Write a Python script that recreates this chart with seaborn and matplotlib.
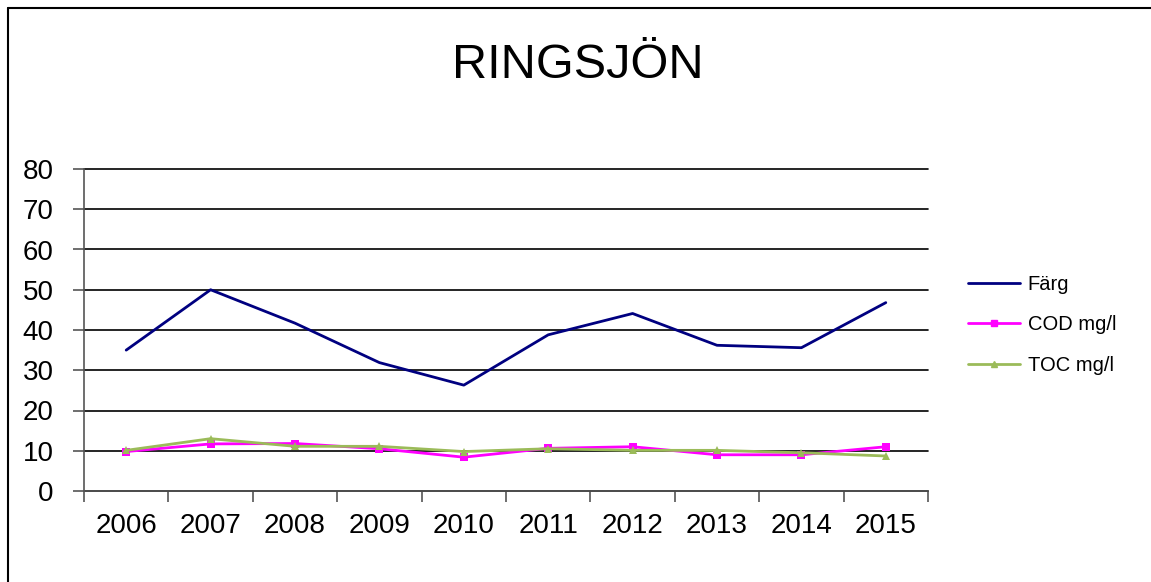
import pandas as pd
import matplotlib.pyplot as plt
import matplotlib.lines as mlines
import seaborn as sns

# data
years = ['2006', '2007', '2008', '2009', '2010', '2011', '2012', '2013', '2014', '2015']
farg = [35.0, 50.0, 41.7, 31.9, 26.3, 38.8, 44.1, 36.2, 35.6, 46.8]
cod = [9.8, 11.7, 11.8, 10.5, 8.4, 10.6, 11.0, 9.0, 9.0, 11.0]
toc = [10.1, 13.0, 11.1, 11.1, 9.8, 10.5, 10.1, 10.1, 9.5, 8.7]

df = pd.DataFrame({'year': years, 'Färg': farg, 'COD mg/l': cod, 'TOC mg/l': toc})
long = df.melt(id_vars='year', var_name='serie', value_name='value')

sns.set_style('white')
plt.rcParams['font.family'] = ['Liberation Sans', 'DejaVu Sans']
plt.rcParams['text.color'] = 'black'
plt.rcParams['xtick.color'] = 'black'
plt.rcParams['ytick.color'] = 'black'

fig = plt.figure(figsize=(11.51, 5.82), dpi=100)
ax = fig.add_axes([84 / 1151, 1 - 491 / 582, (928 - 84) / 1151, (491 - 169) / 582])

palette = {'Färg': '#000080', 'COD mg/l': '#FF00FF', 'TOC mg/l': '#9BBB59'}
markers = {'Färg': '', 'COD mg/l': 's', 'TOC mg/l': '^'}
sizes = {'Färg': 0, 'COD mg/l': 6, 'TOC mg/l': 6}

for name in ['Färg', 'COD mg/l', 'TOC mg/l']:
    sub = long[long['serie'] == name]
    sns.lineplot(data=sub, x='year', y='value', ax=ax, color=palette[name],
                 marker=markers[name] if markers[name] else None,
                 markersize=sizes[name], markeredgewidth=0,
                 linewidth=2, label=name, sort=False)

ax.set_xlim(-0.5, len(years) - 0.5)
ax.set_ylim(0, 80)
ax.set_yticks(range(0, 81, 10))
ax.yaxis.grid(True, color='black', linewidth=1.2)
for gl in ax.get_ygridlines():
    gl.set_clip_on(False)
ax.set_axisbelow(True)
ax.set_xlabel('')
ax.set_ylabel('')

for s in ['top', 'right']:
    ax.spines[s].set_visible(False)
for s in ['left', 'bottom']:
    ax.spines[s].set_color('#555555')
    ax.spines[s].set_linewidth(1.2)

ax.set_xticks(range(len(years)))
ax.set_xticklabels(years)
ax.set_xticks([i - 0.5 for i in range(len(years) + 1)], minor=True)
ax.tick_params(axis='x', which='major', length=0, pad=16, labelsize=20)
ax.tick_params(axis='x', which='minor', length=8, width=1.2, color='#555555', direction='out', bottom=True)
ax.tick_params(axis='y', length=8, width=1.2, color='#555555', direction='out', left=True, pad=14, labelsize=20)

fig.text(578 / 1151, 1 - 66 / 582, 'RINGSJÖN', ha='center', va='center', fontsize=35)

ax.get_legend().remove()
handles = [
    mlines.Line2D([], [], color=palette['Färg'], linewidth=2),
    mlines.Line2D([], [], color=palette['COD mg/l'], linewidth=2, marker='s', markersize=5),
    mlines.Line2D([], [], color=palette['TOC mg/l'], linewidth=2, marker='^', markersize=4),
]
fig.legend(handles, ['Färg', 'COD mg/l', 'TOC mg/l'], loc='center left',
           bbox_to_anchor=(950 / 1151, 1 - 325 / 582), frameon=False,
           fontsize=14.5, handlelength=2.6, labelspacing=1.05, handletextpad=0.35)

# frame around the figure (only left and top visible)
fig.add_artist(mlines.Line2D([8 / 1151, 8 / 1151], [0, 1 - 8 / 582], color='black', linewidth=1.5, transform=fig.transFigure))
fig.add_artist(mlines.Line2D([8 / 1151, 1], [1 - 8 / 582, 1 - 8 / 582], color='black', linewidth=1.5, transform=fig.transFigure))

fig.savefig('out.png', dpi=100)
